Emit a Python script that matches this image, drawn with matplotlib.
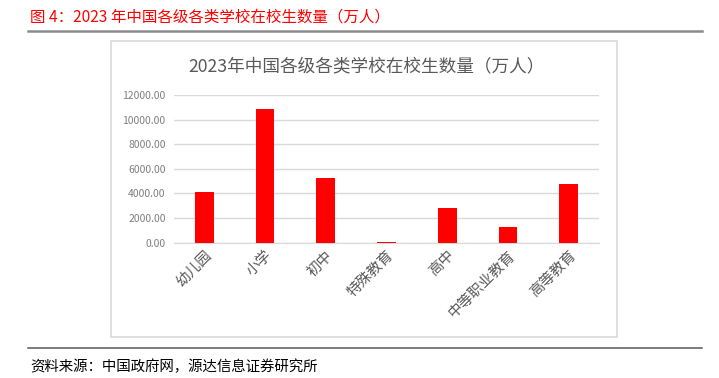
import matplotlib.pyplot as plt
from matplotlib.patches import Rectangle
from matplotlib.lines import Line2D

plt.rcParams['font.family'] = ['Noto Sans CJK SC', 'DejaVu Sans']

categories = ['幼儿园', '小学', '初中', '特殊教育', '高中', '中等职业教育', '高等教育']
students = [4092.98, 10836.00, 5243.69, 91.20, 2803.63, 1298.46, 4763.19]
yticks = [0, 2000, 4000, 6000, 8000, 10000, 12000]

fig = plt.figure(figsize=(7.19, 3.78), dpi=100)
W, H = 719, 378

def fx(x):
    return x / W

def fy(y):
    return 1 - y / H

# header / footer
fig.text(fx(30), fy(17), '图 4：2023 年中国各级各类学校在校生数量（万人）',
         color='#ff0000', fontsize=11.2, va='center', ha='left')
fig.add_artist(Line2D([fx(28), fx(702)], [fy(30.5), fy(30.5)], color='#8c8c8c', lw=1.8))
fig.add_artist(Line2D([fx(28), fx(702)], [fy(348), fy(348)], color='#595959', lw=1.1))
fig.text(fx(30), fy(367), '资料来源：中国政府网，源达信息证券研究所',
         color='#000000', fontsize=10.4, va='center', ha='left')

# chart frame
fig.add_artist(Rectangle((fx(111), fy(336.5)), fx(617 - 111), (336.5 - 40.7) / H,
                         fill=False, edgecolor='#d9d9d9', lw=1.2))
fig.text(fx(366), fy(66), '2023年中国各级各类学校在校生数量（万人）',
         color='#595959', fontsize=12.7, ha='center', va='center')

ax = fig.add_axes([fx(174), fy(242.7), fx(599 - 174), (242.7 - 95) / H])
x = range(len(categories))
ax.bar(x, students, width=0.31, color='#ff0000', zorder=3)
ax.set_xlim(-0.5, len(categories) - 0.5)
ax.set_ylim(0, 12000)
ax.set_yticks(yticks)
ax.set_yticklabels([f'{v:.2f}' for v in yticks], color='#7f7f7f', fontsize=7.5)
ax.set_xticks(list(x))
ax.set_xticklabels(categories, rotation=45, ha='right', rotation_mode='anchor',
                   color='#595959', fontsize=10.5)
ax.grid(axis='y', color='#d9d9d9', lw=1.0, zorder=0)
for s in ['top', 'right', 'left']:
    ax.spines[s].set_visible(False)
ax.spines['bottom'].set_color('#d9d9d9')
ax.tick_params(length=0, pad=6)
ax.tick_params(axis='x', pad=4)

fig.savefig('out.png', dpi=100)
